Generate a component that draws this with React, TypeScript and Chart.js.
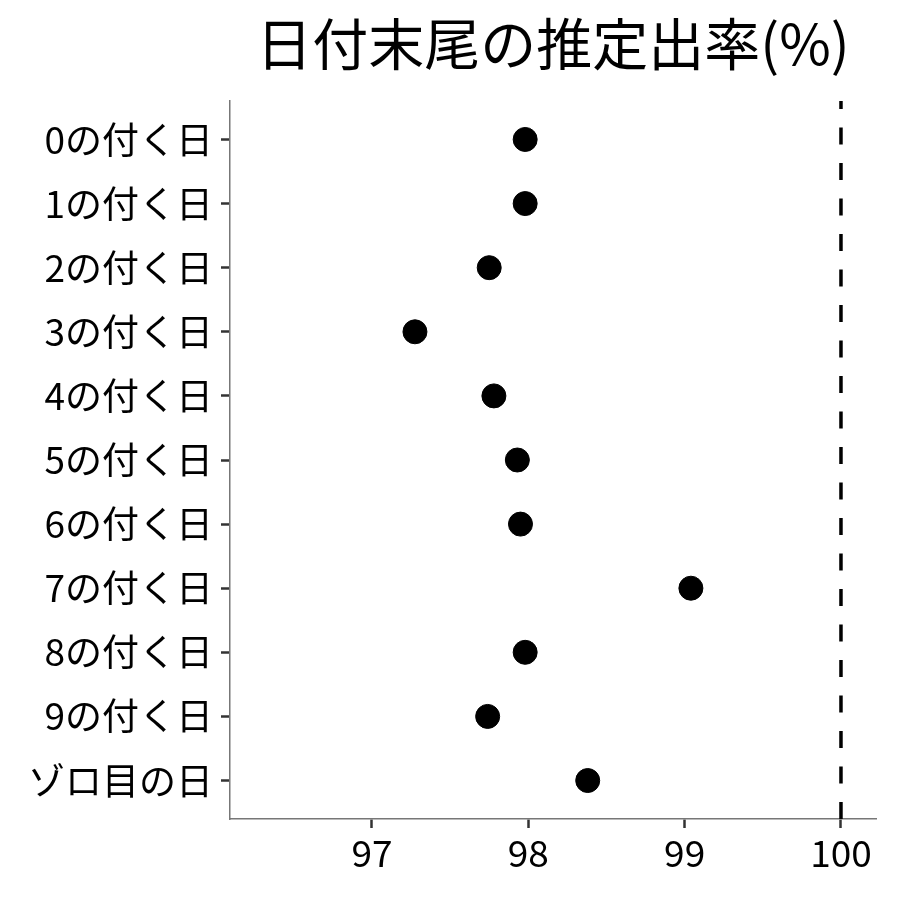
import { useEffect, useRef } from "react";
import { Chart, ChartConfiguration, registerables } from "chart.js";

Chart.register(...registerables);

const categories = [
    "0の付く日",
    "1の付く日",
    "2の付く日",
    "3の付く日",
    "4の付く日",
    "5の付く日",
    "6の付く日",
    "7の付く日",
    "8の付く日",
    "9の付く日",
    "ゾロ目の日",
];
const rates = [97.98, 97.98, 97.75, 97.275, 97.78, 97.93, 97.95, 99.04, 97.98, 97.74, 98.38];
const xTicks = [97, 98, 99, 100];
const refLine = 100;
const titleText = "日付末尾の推定出率(%)";

const FONT = "'Noto Sans CJK JP', 'Noto Sans', sans-serif";

// title centred over the plot area, like the original
const titlePlugin = {
    id: "plotTitle",
    afterDraw(chart: Chart) {
        const { ctx, chartArea } = chart;
        ctx.save();
        ctx.font = `56px ${FONT}`;
        ctx.fillStyle = "#000";
        ctx.textAlign = "center";
        ctx.textBaseline = "middle";
        ctx.fillText(titleText, (chartArea.left + chartArea.right) / 2, 44);
        ctx.restore();
    },
};

export default function App() {
    const chartRef = useRef<HTMLCanvasElement>(null);
    const chartInstance = useRef<Chart | null>(null);

    useEffect(() => {
        if (!chartRef.current) return;
        if (chartInstance.current) {
            chartInstance.current.destroy();
        }
        const ctx = chartRef.current.getContext("2d");
        if (!ctx) return;

        const yMin = -0.6;
        const yMax = categories.length - 1 + 0.6;

        const config: ChartConfiguration = {
            type: "scatter",
            data: {
                datasets: [
                    {
                        type: "line",
                        // drawn bottom-up so the dash pattern starts at the x axis
                        data: [
                            { x: refLine, y: yMax },
                            { x: refLine, y: yMin },
                        ],
                        borderColor: "#000",
                        borderWidth: 3.5,
                        borderDash: [17, 18.5],
                        pointRadius: 0,
                    },
                    {
                        data: rates.map((v, i) => ({ x: v, y: i })),
                        backgroundColor: "#000",
                        borderColor: "#000",
                        pointRadius: 12,
                        pointHoverRadius: 12,
                    },
                ],
            },
            options: {
                responsive: false,
                animation: false,
                devicePixelRatio: 1,
                layout: { padding: { top: 101, right: 24, left: 0, bottom: 0 } },
                plugins: {
                    legend: { display: false },
                    tooltip: { enabled: false },
                },
                scales: {
                    x: {
                        type: "linear",
                        min: 96.092,
                        max: 100.224,
                        afterBuildTicks: (scale) => {
                            scale.ticks = xTicks.map((v) => ({ value: v }));
                        },
                        afterFit: (scale) => {
                            scale.height = 81;
                        },
                        ticks: {
                            color: "#000",
                            font: { family: FONT, size: 37 },
                            padding: 3,
                            maxRotation: 0,
                        },
                        grid: {
                            drawOnChartArea: false,
                            drawTicks: true,
                            tickLength: 9,
                            tickWidth: 2.5,
                            tickColor: "#333",
                        },
                        border: { display: true, color: "#777", width: 1.5 },
                    },
                    y: {
                        type: "linear",
                        reverse: true,
                        min: yMin,
                        max: yMax,
                        afterBuildTicks: (scale) => {
                            scale.ticks = categories.map((_, i) => ({ value: i }));
                        },
                        afterFit: (scale) => {
                            scale.width = 230;
                        },
                        ticks: {
                            color: "#000",
                            font: { family: FONT, size: 37 },
                            padding: 8,
                            callback: (v) => categories[Number(v)] ?? "",
                        },
                        grid: {
                            drawOnChartArea: false,
                            drawTicks: true,
                            tickLength: 9,
                            tickWidth: 2.5,
                            tickColor: "#333",
                        },
                        border: { display: true, color: "#777", width: 1.5 },
                    },
                },
            },
            plugins: [titlePlugin],
        };

        chartInstance.current = new Chart(ctx, config);

        return () => {
            if (chartInstance.current) {
                chartInstance.current.destroy();
            }
        };
    }, []);

    return (
        <div style={{ position: "absolute", left: 0, top: 0, width: 900, height: 900, background: "#fff" }}>
            <canvas ref={chartRef} width={900} height={900}></canvas>
        </div>
    );
}
